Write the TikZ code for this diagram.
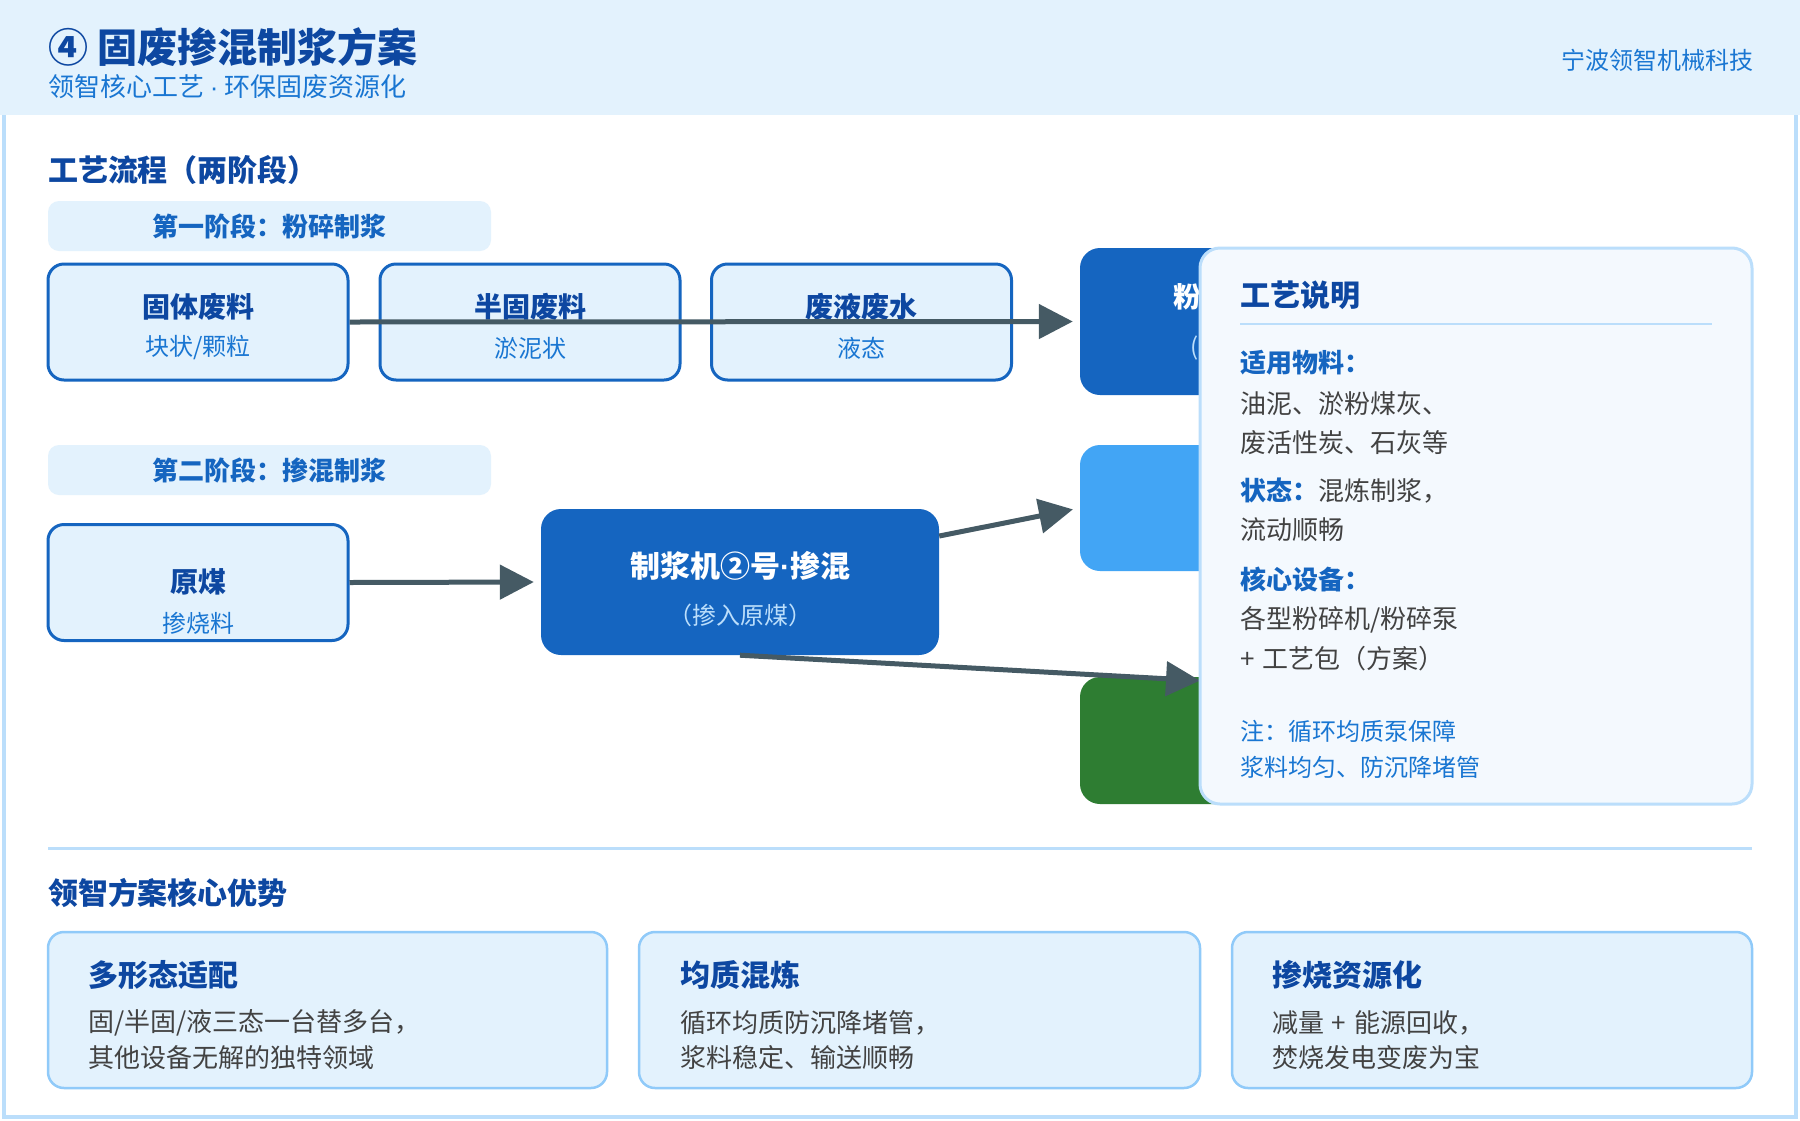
\documentclass[tikz,border=0pt]{standalone}
\usepackage{fontspec}
\setmainfont{Noto Sans CJK SC}
\newfontfamily\latinf{Liberation Sans}
\usetikzlibrary{arrows.meta,calc}
\definecolor{hdrbg}{HTML}{E3F2FD}
\definecolor{dkblue}{HTML}{0D47A1}
\definecolor{mdblue}{HTML}{1565C0}
\definecolor{txblue}{HTML}{1976D2}
\definecolor{ltborder}{HTML}{BBDEFB}
\definecolor{cardborder}{HTML}{90CAF9}
\definecolor{panelbg}{HTML}{F4F9FE}
\definecolor{graytx}{HTML}{424242}
\definecolor{arrowc}{HTML}{455A64}
\definecolor{skyblue}{HTML}{42A5F5}
\definecolor{grn}{HTML}{2E7D32}
\definecolor{paleblue}{HTML}{BBDEFB}
\newcommand{\fsz}[1]{\fontsize{#1}{#1}\selectfont}
\newcommand{\mdot}{{\latinf\bfseries ·}}
\begin{document}
\begin{tikzpicture}[x=1pt,y=-1pt,
  tx/.style={inner sep=0pt,outer sep=0pt},
  lt/.style={tx,anchor=west},
  inbox/.style={draw=mdblue,line width=3pt,fill=hdrbg,rounded corners=16pt,minimum width=300pt,minimum height=116pt,inner sep=0pt},
  stagebox/.style={fill=hdrbg,rounded corners=11pt,minimum width=443pt,minimum height=50pt,inner sep=0pt},
  bigbox/.style={rounded corners=20pt,minimum width=382pt,inner sep=0pt},
  card/.style={draw=cardborder,line width=2.5pt,fill=hdrbg,rounded corners=16pt,minimum height=156pt,inner sep=0pt},
  arr/.style={draw=arrowc,line width=5pt,-{Triangle[length=34pt,width=34pt]},shorten >=7pt},
  boxtitle/.style={tx,text=dkblue,font=\fsz{28}\bfseries},
  boxsub/.style={tx,text=txblue,font=\fsz{24}},
  secttl/.style={lt,text=dkblue,font=\fsz{30}\bfseries},
  ptx/.style={lt,text=graytx,font=\fsz{26}},
  phd/.style={lt,text=mdblue,font=\fsz{26}\bfseries},
  pnote/.style={lt,text=txblue,font=\fsz{24}}
]
\useasboundingbox (0,0) rectangle (1800,1120);
\fill[white] (0,0) rectangle (1800,1120);
% header
\fill[hdrbg] (0,0) rectangle (1800,115);
\draw[ltborder,line width=4pt] (4,115) -- (4,1117) -- (1796,1117) -- (1796,115);
\node[lt,text=dkblue,font=\fsz{40}\bfseries] (title) at (48,47) {④ 固废掺混制浆方案};
\node[lt,text=txblue,font=\fsz{26}] (subtitle) at (48,87) {领智核心工艺 {\latinf ·} 环保固废资源化};
\node[tx,anchor=east,text=txblue,font=\fsz{24}] (company) at (1753,60) {宁波领智机械科技};

% section 1
\node[secttl] (flowttl) at (48,170) {工艺流程（两阶段）};
\node[stagebox] (st1) at (269.5,226) {};
\node[tx,text=mdblue,font=\fsz{26}\bfseries] (st1t) at (st1.center) {第一阶段：粉碎制浆};

\node[inbox] (b1) at (198,322) {};
\node[inbox] (b2) at (530,322) {};
\node[inbox] (b3) at (861.5,322) {};
\node[boxtitle] (b1t) at (198,307) {固体废料};
\node[boxsub] (b1s) at (198,348) {块状/颗粒};
\node[boxtitle] (b2t) at (530,307) {半固废料};
\node[boxsub] (b2s) at (530,348) {淤泥状};
\node[boxtitle] (b3t) at (861.5,307) {废液废水};
\node[boxsub] (b3s) at (861.5,348) {液态};

\node[stagebox] (st2) at (269.5,470) {};
\node[tx,text=mdblue,font=\fsz{26}\bfseries] (st2t) at (st2.center) {第二阶段：掺混制浆};

\node[inbox] (coal) at (198,582.5) {};
\node[boxtitle] (coalt) at (198,582) {原煤};
\node[boxsub] (coals) at (198,623) {掺烧料};

\node[fill=mdblue,rounded corners=20pt,minimum width=398pt,minimum height=146pt,inner sep=0pt] (mixer) at (740,582) {};
\node[tx,text=white,font=\fsz{30}\bfseries] (mixt) at (740,566) {制浆机②号\mdot 掺混};
\node[tx,text=paleblue,font=\fsz{24}] (mixs) at (740,615) {（掺入原煤）};

% right-hand output boxes
\node[bigbox,fill=mdblue,minimum height=147pt] (p1) at (1271,321.5) {};
\node[tx,text=white,font=\fsz{28}\bfseries] (p1t) at (1271,297) {粉碎制浆机①号};
\node[lt,text=paleblue,font=\fsz{24}] (p1s) at (1190,348) {(固/半固/液)};
\node[bigbox,fill=skyblue,minimum height=126pt] (lb) at (1271,508) {};
\node[bigbox,fill=grn,minimum height=127pt] (gr) at (1271,740.5) {};

% connectors
\draw[arr] (b1.east) -- (p1.west);
\draw[arr] (coal.east) -- (mixer.west);
\draw[arr] (mixer.13) -- (lb.west);
\coordinate (a4end) at (1207,681);
\draw[arr] (mixer.south) -- (a4end);

% explanation panel
\node[draw=ltborder,line width=3pt,fill=panelbg,rounded corners=20pt,minimum width=552pt,minimum height=556pt,inner sep=0pt] (panel) at (1476,526) {};
\node[lt,text=dkblue,font=\fsz{30}\bfseries] (pt) at (1240,295) {工艺说明};
\draw[ltborder,line width=2pt] (1240,324) -- (1712,324);
\node[phd] (pa) at (1240,363) {适用物料：};
\node[ptx] (pa1) at (1240,404) {油泥、淤粉煤灰、};
\node[ptx] (pa2) at (1240,443) {废活性炭、石灰等};
\node[lt,font=\fsz{26}] (pb) at (1240,491) {{\bfseries\color{mdblue}状态：}{\color{graytx}混炼制浆，}};
\node[ptx] (pb1) at (1240,530) {流动顺畅};
\node[phd] (pc) at (1240,579) {核心设备：};
\node[ptx] (pc1) at (1240,620) {各型粉碎机/粉碎泵};
\node[ptx] (pc2) at (1240,659) {+\hspace{0.3em}工艺包（方案）};
\node[pnote] (pn1) at (1240,731) {注：循环均质泵保障};
\node[pnote] (pn2) at (1240,767) {浆料均匀、防沉降堵管};

% separator
\draw[ltborder,line width=3pt] (48,848) -- (1752,848);
\node[secttl] (advttl) at (48,893) {领智方案核心优势};

% cards
\node[card,minimum width=559pt] (c1) at (327.5,1010) {};
\node[card,minimum width=561pt] (c2) at (919.5,1010) {};
\node[card,minimum width=520pt] (c3) at (1492,1010) {};
\node[secttl] (c1t) at (88,975) {多形态适配};
\node[ptx] (c1a) at (88,1023) {固/半固/液三态一台替多台，};
\node[ptx] (c1b) at (88,1058) {其他设备无解的独特领域};
\node[secttl] (c2t) at (680,975) {均质混炼};
\node[ptx] (c2a) at (680,1023) {循环均质防沉降堵管，};
\node[ptx] (c2b) at (680,1058) {浆料稳定、输送顺畅};
\node[secttl] (c3t) at (1272,975) {掺烧资源化};
\node[ptx] (c3a) at (1272,1023) {减量\hspace{0.3em}+\hspace{0.3em}能源回收，};
\node[ptx] (c3b) at (1272,1058) {焚烧发电变废为宝};
\end{tikzpicture}
\end{document}
